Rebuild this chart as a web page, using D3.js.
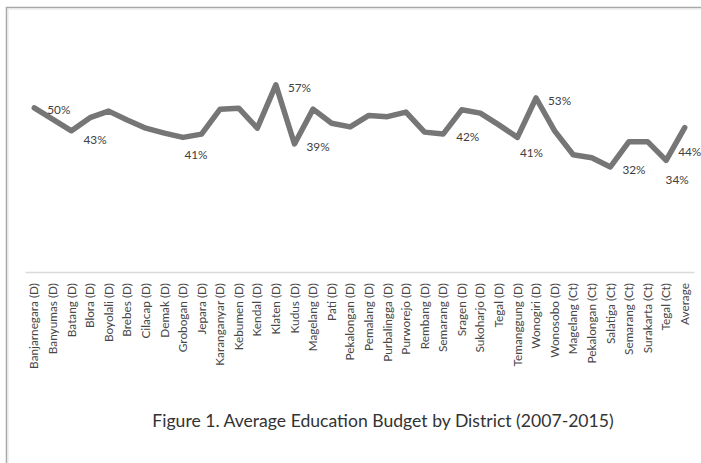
<!DOCTYPE html>
<html>
<head>
<meta charset="utf-8">
<script src="https://cdn.jsdelivr.net/npm/d3@7"></script>
<style>
  html, body { margin: 0; padding: 0; background: #fff; }
  svg { display: block; }
</style>
</head>
<body>
<svg id="chart" width="701" height="463"></svg>
<script>
// ---- data ----
const categories = [
  "Banjarnegara (D)", "Banyumas (D)", "Batang (D)", "Blora (D)", "Boyolali (D)",
  "Brebes (D)", "Cilacap (D)", "Demak (D)", "Grobogan (D)", "Jepara (D)",
  "Karanganyar (D)", "Kebumen (D)", "Kendal (D)", "Klaten (D)", "Kudus (D)",
  "Magelang (D)", "Pati (D)", "Pekalongan (D)", "Pemalang (D)", "Purbalingga (D)",
  "Purworejo (D)", "Rembang (D)", "Semarang (D)", "Sragen (D)", "Sukoharjo (D)",
  "Tegal (D)", "Temanggung (D)", "Wonogiri (D)", "Wonosobo (D)", "Magelang (Ct)",
  "Pekalongan (Ct)", "Salatiga (Ct)", "Semarang (Ct)", "Surakarta (Ct)", "Tegal (Ct)",
  "Average"
];
const budgetShare = [
  50, 46.5, 43, 47, 49,
  46.3, 43.8, 42.3, 41, 42,
  49.6, 49.9, 43.8, 57, 39,
  49.6, 45.3, 44.2, 47.7, 47.3,
  48.7, 42.6, 42, 49.4, 48.4,
  44.8, 41, 53, 43, 35.7,
  34.8, 32, 39.7, 39.7, 34,
  44
];
const labeledCategories = [
  "Banjarnegara (D)", "Batang (D)", "Grobogan (D)", "Klaten (D)", "Kudus (D)",
  "Semarang (D)", "Temanggung (D)", "Wonogiri (D)", "Salatiga (Ct)", "Tegal (Ct)", "Average"
];
const yTicks = [0, 10, 20, 30, 40, 50, 60];
const chartTitle = "Figure 1. Average Education Budget by District (2007-2015)";

// ---- layout / style ----
const svg = d3.select("#chart");
const W = 701, H = 463;
const plot = { left: 25, right: 694, top: 75, bottom: 272 };
const FONT = "Lato, 'Open Sans', sans-serif";

// frame
svg.append("path")
  .attr("d", `M6.5,${H} L6.5,7.5 L${W},7.5`)
  .attr("fill", "none").attr("stroke", "#a8a8a8").attr("stroke-width", 1.5);
svg.append("path")
  .attr("d", `M8,${H} L8,9 L${W},9`)
  .attr("fill", "none").attr("stroke", "#e4e4e4").attr("stroke-width", 1);

const x = d3.scaleBand().domain(categories).range([plot.left, plot.right]).padding(0);
const y = d3.scaleLinear().domain([yTicks[0], yTicks[yTicks.length - 1]]).range([plot.bottom, plot.top]);
const cx = c => x(c) + x.bandwidth() / 2;

// x axis
const xAxis = d3.axisBottom(x).tickSize(0).tickPadding(0);
const gx = svg.append("g").attr("transform", `translate(0,${plot.bottom})`).call(xAxis);
gx.select(".domain").attr("stroke", "#d9d9d9").attr("stroke-width", 1.5);
gx.selectAll(".tick text")
  .attr("font-family", FONT)
  .attr("font-size", "11.8px")
  .attr("fill", "#474747")
  .attr("text-anchor", "end")
  .attr("transform", "rotate(-90)")
  .attr("x", -11)
  .attr("y", 0)
  .attr("dy", "0.35em");

// line
const pts = categories.map((c, i) => ({ c, v: budgetShare[i] }));
svg.append("path")
  .datum(pts)
  .attr("fill", "none")
  .attr("stroke", "#767676")
  .attr("stroke-width", 5.5)
  .attr("stroke-linejoin", "round")
  .attr("stroke-linecap", "round")
  .attr("d", d3.line().x(d => cx(d.c)).y(d => y(d.v)));

// data labels (offsets relative to the point)
const labelOffset = {
  "Banjarnegara (D)": [13, 2, "start"],
  "Batang (D)": [12, 9, "start"],
  "Grobogan (D)": [13, 17, "middle"],
  "Klaten (D)": [12, 3, "start"],
  "Kudus (D)": [12, 3, "start"],
  "Semarang (D)": [13, 3, "start"],
  "Temanggung (D)": [14, 15, "middle"],
  "Wonogiri (D)": [12, 3, "start"],
  "Salatiga (Ct)": [12, 3, "start"],
  "Tegal (Ct)": [11, 20, "middle"],
  "Average": [5, 24, "middle"]
};
svg.append("g").selectAll("text")
  .data(pts.filter(d => labeledCategories.includes(d.c)))
  .join("text")
  .attr("x", d => cx(d.c) + labelOffset[d.c][0])
  .attr("y", d => y(d.v) + labelOffset[d.c][1])
  .attr("dy", "0.35em")
  .attr("text-anchor", d => labelOffset[d.c][2])
  .attr("font-family", FONT)
  .attr("font-size", "11.8px")
  .attr("fill", "#404040")
  .text(d => d3.format(".0f")(d.v) + "%");

// title
svg.append("text")
  .attr("x", 383)
  .attr("y", 427)
  .attr("text-anchor", "middle")
  .attr("font-family", FONT)
  .attr("font-size", "17.6px")
  .attr("fill", "#333333")
  .text(chartTitle);
</script>
</body>
</html>
